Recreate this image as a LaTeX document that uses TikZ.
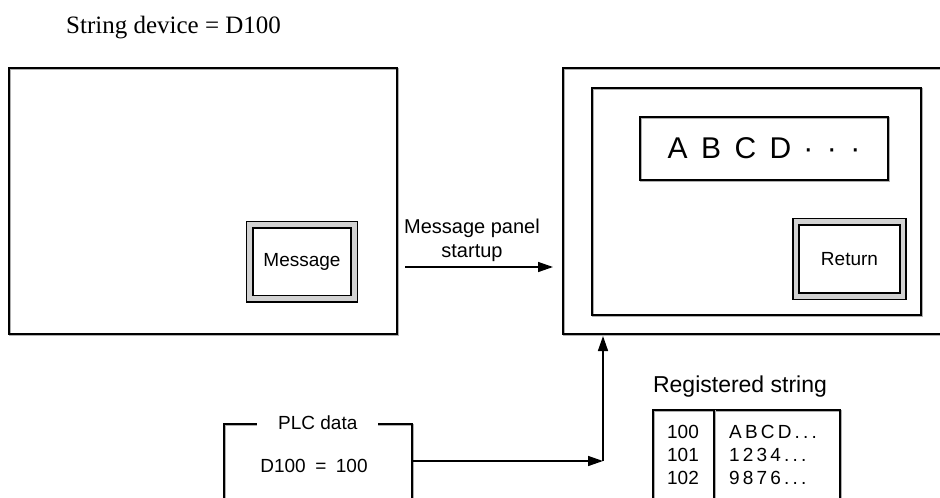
\documentclass[tikz,border=0pt]{standalone}
\usepackage{fontspec}
\setmainfont{Liberation Sans}
\newfontfamily\titleface{Liberation Serif}
\usepackage{tikz}
\usetikzlibrary{arrows.meta, positioning, calc}
\definecolor{btngray}{RGB}{210,210,210}
\definecolor{shadegray}{RGB}{175,175,175}

\tikzset{
  frame/.style={draw=black, line width=1.6pt,
    preaction={draw=shadegray, line width=1.6pt, transform canvas={shift={(0.9pt,-0.9pt)}}}},
  screen/.style={frame, rectangle, inner sep=0pt, anchor=north west},
  btn/.style={draw=black, fill=white, line width=1.7pt, double=btngray, double distance=4.6pt,
    inner sep=0pt, font=\fontsize{19}{23}\selectfont},
  arr/.style={-{Triangle[length=15pt,width=10pt]}, line width=1.5pt},
  txt/.style={font=\fontsize{19}{23}\selectfont, inner sep=0pt},
}

\begin{document}
\begin{tikzpicture}[x=1pt, y=-1pt]
  \clip (0,0) rectangle (940,498);
  % Title
  \node[font=\titleface\fontsize{25}{30}\selectfont, anchor=base west, inner sep=0pt] (title) at (66,33) {String device = D100};
  % Left screen with button
  \node[screen, minimum width=388, minimum height=266] (scrA) at (8,67) {};
  \node[btn, minimum width=104.5, minimum height=74] (msgbtn) at (302,261.5) {Message};
  % Right screen (message panel)
  \node[screen, minimum width=387, minimum height=266] (scrB) at (562,67) {};
  \node[screen, minimum width=329, minimum height=227] (scrBin) at (591,87) {};
  \node[frame, minimum width=248, minimum height=63, inner sep=0pt,
        font=\fontsize{30}{36}\selectfont] (strbox) at (764,148.5)
        {A\hspace{.45em}B\hspace{.45em}C\hspace{.45em}D\hspace{.4em}·\hspace{.45em}·\hspace{.45em}·\hspace{.85em}};
  \node[btn, minimum width=107, minimum height=74.5] (retbtn) at (849.5,259) {Return};
  % Startup arrow
  \coordinate (startA) at (405,267);
  \draw[arr, shorten >=9pt] (startA) -- (startA -| scrB.west);
  \node[font=\fontsize{20}{24}\selectfont, align=center, anchor=south, inner sep=0pt] (startlbl) at (472,262) {Message panel\\startup};
  % PLC data
  \node[frame, minimum width=188, minimum height=120, inner sep=0pt, anchor=north west] (plc) at (223,423) {};
  \node[txt, fill=white, inner xsep=21pt, inner ysep=3pt] (plctitle) at (plc.north) {PLC data};
  \node[txt] (plcval) at (314,466) {D100\hspace{.5em}=\hspace{.5em}100};
  \coordinate (plcout) at (411,461);
  \coordinate (corner) at (603,461);
  \coordinate (tap) at (603,336);
  \draw[arr] (plcout) -- (corner);
  \draw[arr] (corner) -- (tap);
  % Registered string table
  \node[font=\fontsize{23}{28}\selectfont, inner sep=0pt] (tbltitle) at (740,387) {Registered string};
  \node[frame, minimum width=187, minimum height=130, inner sep=0pt, anchor=north west] (tbl) at (652,409) {};
  \draw[frame] ($(tbl.north west)+(62,0)$) -- ($(tbl.south west)+(62,0)$);
  \node[txt, align=center] (rowkeys) at (683,455) {100\\101\\102};
  \node[txt, align=left, anchor=west] (rowvals) at (729,455)
        {A\,B\,C\,D\,.\,.\,.\\1\,2\,3\,4\,.\,.\,.\\9\,8\,7\,6\,.\,.\,.};
\end{tikzpicture}
\end{document}
